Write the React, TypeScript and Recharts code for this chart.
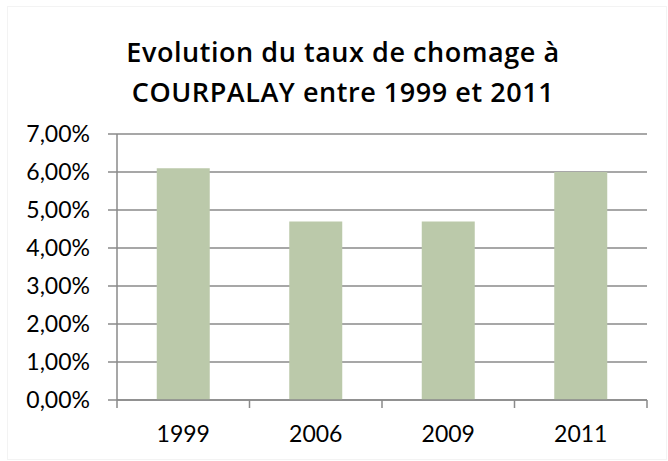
import React from 'react';
import { BarChart, Bar, XAxis, YAxis, CartesianGrid } from 'recharts';

const years = ['1999', '2006', '2009', '2011'];
const rates = [0.061, 0.047, 0.047, 0.06];
const yTicks = [0, 0.01, 0.02, 0.03, 0.04, 0.05, 0.06, 0.07];
const titleLines = ['Evolution du taux de chomage à', 'COURPALAY entre 1999 et 2011'];

const data = years.map((y, i) => ({ year: y, rate: rates[i] }));

const AXIS = '#8a8a8a';
const FONT = 'Lato, "Open Sans", sans-serif';
const TITLE_FONT = '"Open Sans", sans-serif';

const fmt = (v: number) => (v * 100).toFixed(2).replace('.', ',') + '%';

const XTick = (props: any) => {
  const { x, y, payload, width, visibleTicksCount, index } = props;
  const step = width / visibleTicksCount;
  const left = x - step / 2;
  const right = x + step / 2;
  return (
    <g>
      <line x1={left} x2={left} y1={y} y2={y + 8} stroke={AXIS} strokeWidth={1.5} />
      {index === visibleTicksCount - 1 && (
        <line x1={right} x2={right} y1={y} y2={y + 8} stroke={AXIS} strokeWidth={1.5} />
      )}
      <text x={x} y={y + 42} textAnchor="middle" fontSize={23} fill="#000" fontFamily={FONT}>
        {payload.value}
      </text>
    </g>
  );
};

export default function App() {
  return (
    <div style={{ position: 'absolute', left: 0, top: 0, width: 668, height: 461, background: '#fff' }}>
      <div
        style={{
          position: 'absolute',
          left: 7,
          top: 6,
          width: 660,
          height: 454,
          border: '1px solid #f3f3f3',
          boxSizing: 'border-box',
        }}
      />
      <div
        style={{
          position: 'absolute',
          left: 0,
          top: 32,
          width: 686,
          textAlign: 'center',
          fontFamily: TITLE_FONT,
          fontWeight: 600,
          fontSize: 27,
          lineHeight: '40px',
          letterSpacing: 0.55,
          color: '#000',
        }}
      >
        {titleLines.map((t) => (
          <div key={t}>{t}</div>
        ))}
      </div>
      <BarChart
        width={668}
        height={461}
        data={data}
        margin={{ top: 134, right: 21, bottom: 11, left: 0 }}
        barCategoryGap="30%"
        style={{ position: 'absolute', left: 0, top: 0 }}
      >
        <CartesianGrid vertical={false} stroke={AXIS} strokeWidth={1.5} />
        <XAxis
          dataKey="year"
          height={50}
          tickLine={false}
          tickSize={0}
          tickMargin={0}
          axisLine={{ stroke: AXIS, strokeWidth: 1.5 }}
          tick={<XTick />}
          interval={0}
        />
        <YAxis
          width={117}
          domain={[0, 0.07]}
          ticks={yTicks}
          tickFormatter={fmt}
          tickSize={9}
          tickMargin={18}
          axisLine={{ stroke: AXIS, strokeWidth: 1.5 }}
          tickLine={{ stroke: AXIS, strokeWidth: 1.5 }}
          tick={{ fontSize: 23, fill: '#000', fontFamily: FONT }}
          interval={0}
        />
        <Bar dataKey="rate" fill="#bbc9aa" isAnimationActive={false} />
      </BarChart>
    </div>
  );
}
